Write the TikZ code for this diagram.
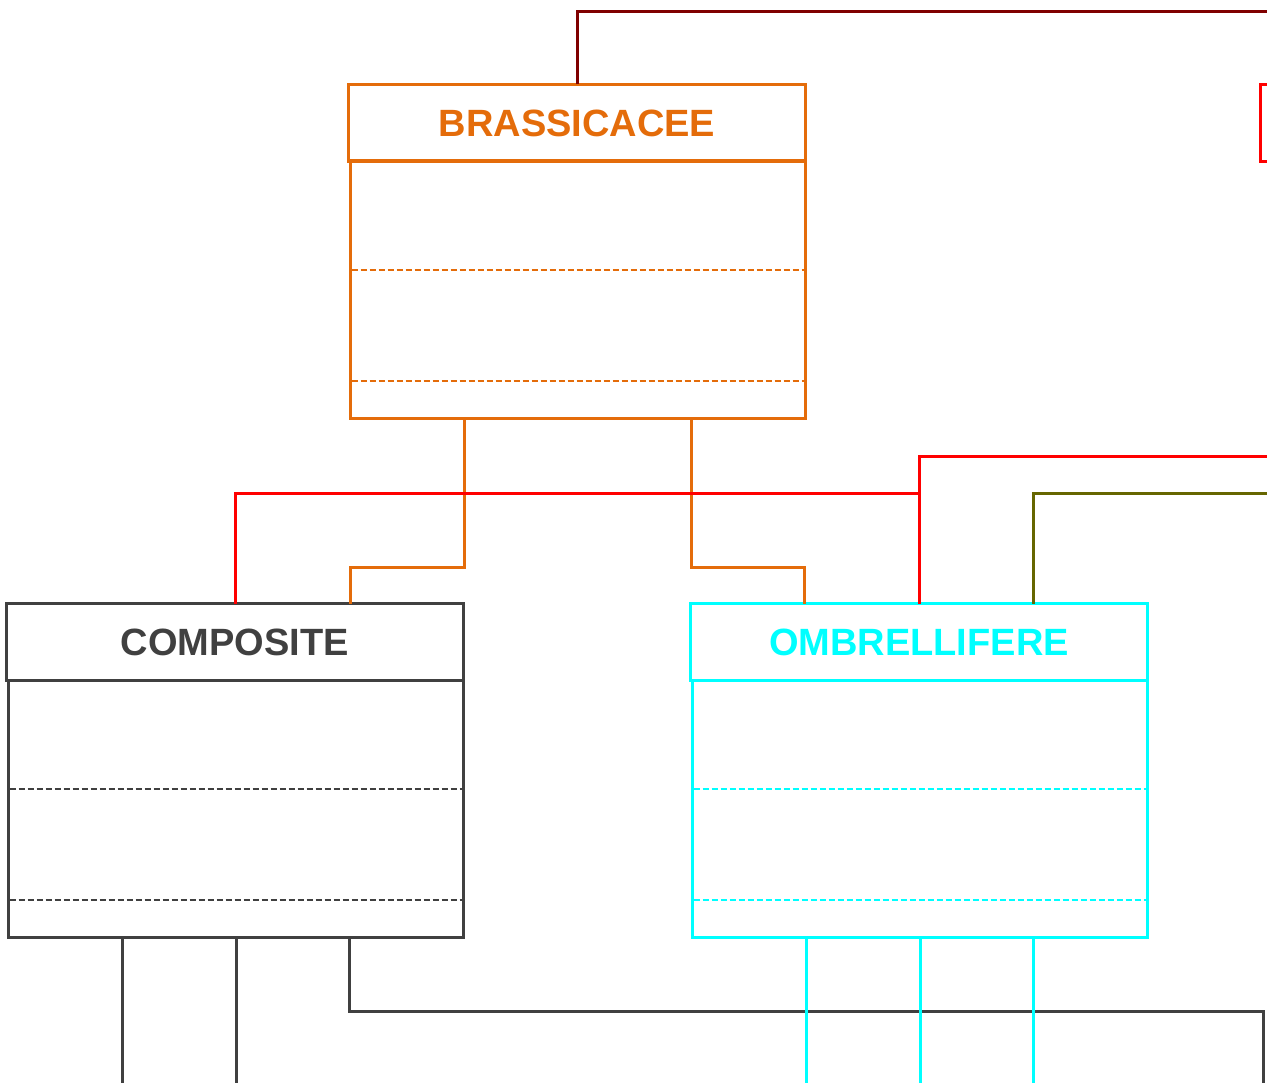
\documentclass[tikz,border=0pt]{standalone}
\usepackage{fontspec}
\setmainfont{Liberation Sans}
\usetikzlibrary{calc}
\definecolor{cOr}{HTML}{E46C0A}
\definecolor{cGr}{HTML}{404040}
\definecolor{cCy}{HTML}{00FFFF}
\definecolor{cRd}{HTML}{FF0000}
\definecolor{cDR}{HTML}{800000}
\definecolor{cOl}{HTML}{666600}
\begin{document}
\begin{tikzpicture}[x=1pt,y=-1pt,
  ttl/.style={draw, line width=3pt, outer sep=0pt, minimum width=457pt, minimum height=77pt, inner sep=0pt, anchor=north west, font=\bfseries\fontsize{38}{40}\selectfont},
  bdy/.style={draw, line width=3pt, outer sep=0pt, minimum width=455pt, minimum height=257pt, inner sep=0pt, anchor=north west},
  sep/.style={line width=1.6pt, dash pattern=on 6pt off 3pt},
  con/.style={line width=3pt}]
\useasboundingbox (0,0) rectangle (1267,1083);
% free ends
\coordinate (eDR) at (1272,12);
\coordinate (eRd) at (1272,456);
\coordinate (eOl) at (1272,493);
\coordinate (eGr) at (1263,1090);
% boxes
\node[ttl, cOr] (brt) at (348.5,84.5) {BRASSICACEE};
\node[bdy, cOr] (brb) at (350.5,161) {};
\node[ttl, cGr] (cot) at (6.5,603.5) {COMPOSITE};
\node[bdy, cGr] (cob) at (8.5,680) {};
\node[ttl, cCy] (omt) at (690.5,603.5) {OMBRELLIFERE};
\node[bdy, cCy] (omb) at (692.5,680) {};
\node[ttl, cRd] (rdt) at (1260.5,84.5) {};
% separators
\foreach \b/\c in {brb/cOr,cob/cGr,omb/cCy}{
  \draw[sep,draw=\c] ($(\b.north west)+(1,109)$) -- ($(\b.north east)+(-1,109)$);
  \draw[sep,draw=\c] ($(\b.north west)+(1,220)$) -- ($(\b.north east)+(-1,220)$);
}
% connectors
\draw[con,cDR] (brt.north) |- (eDR);
\draw[con,cOr] ($(brb.south west)!0.25!(brb.south east)$) -- ++(0,149) -| ($(cot.north west)!0.753!(cot.north east)$);
\draw[con,cOr] ($(brb.south west)!0.75!(brb.south east)$) -- ++(0,149) -| ($(omt.north west)!0.25!(omt.north east)$);
\draw[con,cRd] (cot.north) -- ++(0,-110) -| (omt.north);
\draw[con,cRd] (omt.north) |- (eRd);
\draw[con,cOl] ($(omt.north west)!0.75!(omt.north east)$) |- (eOl);
\draw[con,cGr] ($(cob.south west)!0.25!(cob.south east)$) -- ++(0,160);
\draw[con,cGr] ($(cob.south west)!0.5!(cob.south east)$) -- ++(0,160);
\draw[con,cGr] ($(cob.south west)!0.75!(cob.south east)$) -- ++(0,74) -| (eGr);
\draw[con,cCy] ($(omb.south west)!0.25!(omb.south east)$) -- ++(0,160);
\draw[con,cCy] ($(omb.south west)!0.5!(omb.south east)$) -- ++(0,160);
\draw[con,cCy] ($(omb.south west)!0.75!(omb.south east)$) -- ++(0,160);
\end{tikzpicture}
\end{document}
